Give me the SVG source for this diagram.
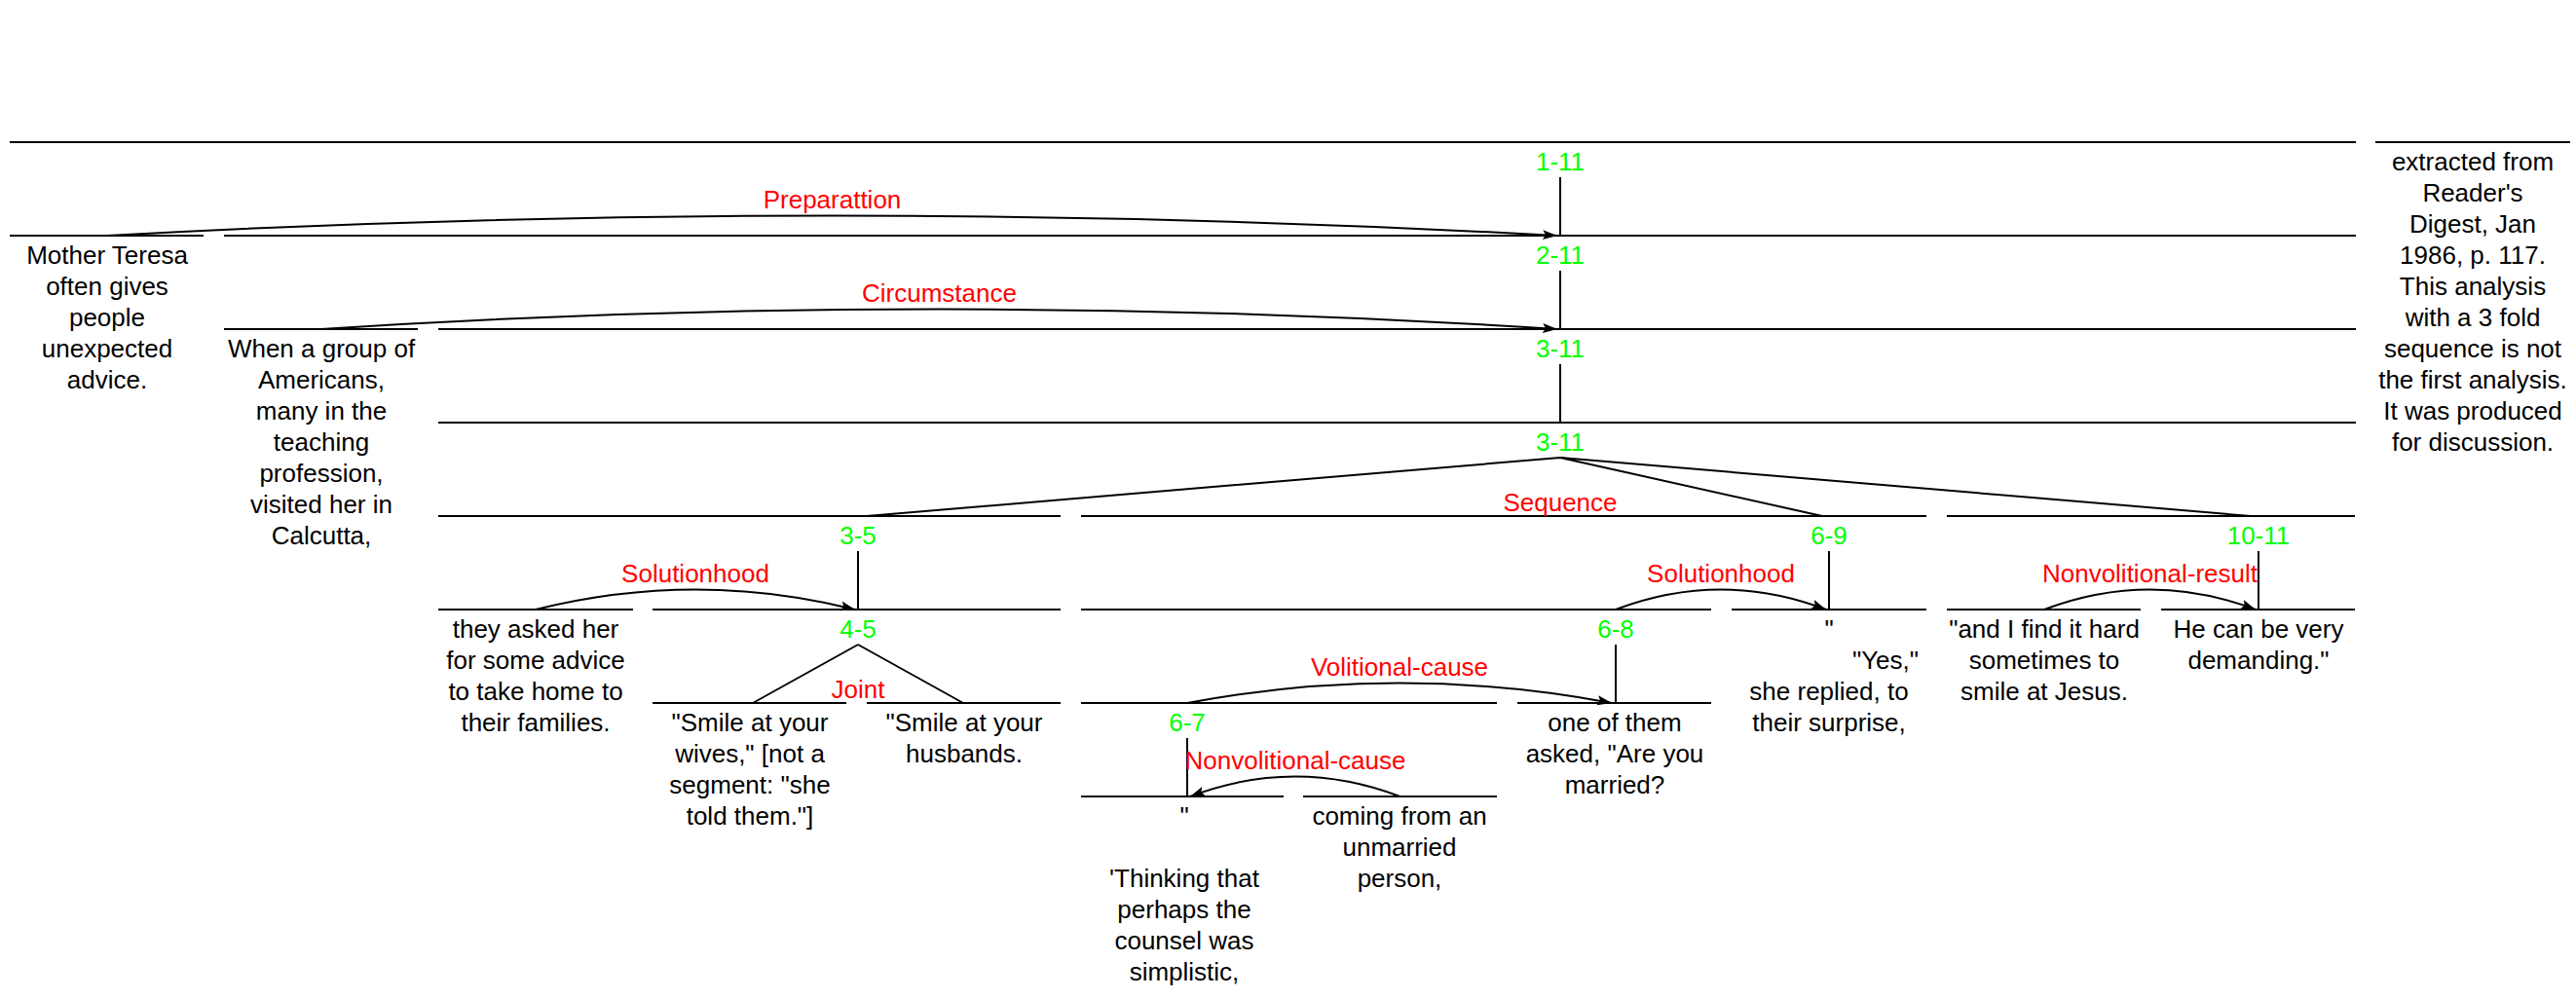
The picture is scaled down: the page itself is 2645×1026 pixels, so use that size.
<svg xmlns="http://www.w3.org/2000/svg" width="2645" height="1026" viewBox="0 0 2645 1026">
<style>
.ln{stroke:#000;stroke-width:2;fill:none}
text{font-family:"Liberation Sans",Arial,sans-serif;font-size:26px;text-anchor:middle}
.sp{fill:#00ff00}
.rel{fill:#ff0000}
.tx{fill:#000}
</style>
<defs>
<marker id="ah" markerUnits="userSpaceOnUse" markerWidth="16" markerHeight="12" refX="15" refY="6" orient="auto" viewBox="0 0 16 12">
<path d="M15,6 L0,1 L3,6 L0,11 Z" fill="#000"/>
</marker>
</defs>
<rect width="2645" height="1026" fill="#fff"/>

<g id="span-1-11">
<line class="ln" x1="10" y1="146" x2="2419" y2="146"/>
<text class="sp" x="1602" y="175">1-11</text>
</g>
<g id="seg-1">
<line class="ln" x1="10" y1="242" x2="209" y2="242"/>
<text class="tx" x="110" y="271"><tspan x="110">Mother Teresa</tspan><tspan x="110" dy="32">often gives</tspan><tspan x="110" dy="32">people</tspan><tspan x="110" dy="32">unexpected</tspan><tspan x="110" dy="32">advice.</tspan></text>
</g>
<g id="span-2-11">
<line class="ln" x1="230" y1="242" x2="2419" y2="242"/>
<text class="sp" x="1602" y="271">2-11</text>
</g>
<g id="seg-2">
<line class="ln" x1="230" y1="338" x2="429" y2="338"/>
<text class="tx" x="330" y="367"><tspan x="330">When a group of</tspan><tspan x="330" dy="32">Americans,</tspan><tspan x="330" dy="32">many in the</tspan><tspan x="330" dy="32">teaching</tspan><tspan x="330" dy="32">profession,</tspan><tspan x="330" dy="32">visited her in</tspan><tspan x="330" dy="32">Calcutta,</tspan></text>
</g>
<g id="span-3-11a">
<line class="ln" x1="450" y1="338" x2="2419" y2="338"/>
<text class="sp" x="1602" y="367">3-11</text>
</g>
<g id="span-3-11b">
<line class="ln" x1="450" y1="434" x2="2419" y2="434"/>
<text class="sp" x="1602" y="463">3-11</text>
</g>
<g id="span-3-5">
<line class="ln" x1="450" y1="530" x2="1089" y2="530"/>
<text class="sp" x="881" y="559">3-5</text>
</g>
<g id="span-6-9">
<line class="ln" x1="1110" y1="530" x2="1978" y2="530"/>
<text class="sp" x="1878" y="559">6-9</text>
</g>
<g id="span-10-11">
<line class="ln" x1="1999" y1="530" x2="2418" y2="530"/>
<text class="sp" x="2319" y="559">10-11</text>
</g>
<g id="seg-3">
<line class="ln" x1="450" y1="626" x2="650" y2="626"/>
<text class="tx" x="550" y="655"><tspan x="550">they asked her</tspan><tspan x="550" dy="32">for some advice</tspan><tspan x="550" dy="32">to take home to</tspan><tspan x="550" dy="32">their families.</tspan></text>
</g>
<g id="span-4-5">
<line class="ln" x1="670" y1="626" x2="1089" y2="626"/>
<text class="sp" x="881" y="655">4-5</text>
</g>
<g id="span-6-8">
<line class="ln" x1="1110" y1="626" x2="1757" y2="626"/>
<text class="sp" x="1659" y="655">6-8</text>
</g>
<g id="seg-9">
<line class="ln" x1="1778" y1="626" x2="1978" y2="626"/>
<text class="tx" x="1878" y="655"><tspan x="1878">"</tspan><tspan x="1936" dy="32">"Yes,"</tspan><tspan x="1878" dy="32">she replied, to</tspan><tspan x="1878" dy="32">their surprise,</tspan></text>
</g>
<g id="seg-10">
<line class="ln" x1="1999" y1="626" x2="2198" y2="626"/>
<text class="tx" x="2099" y="655"><tspan x="2099">"and I find it hard</tspan><tspan x="2099" dy="32">sometimes to</tspan><tspan x="2099" dy="32">smile at Jesus.</tspan></text>
</g>
<g id="seg-11">
<line class="ln" x1="2219" y1="626" x2="2418" y2="626"/>
<text class="tx" x="2319" y="655"><tspan x="2319">He can be very</tspan><tspan x="2319" dy="32">demanding."</tspan></text>
</g>
<g id="seg-4">
<line class="ln" x1="670" y1="722" x2="869" y2="722"/>
<text class="tx" x="770" y="751"><tspan x="770">"Smile at your</tspan><tspan x="770" dy="32">wives," [not a</tspan><tspan x="770" dy="32">segment: "she</tspan><tspan x="770" dy="32">told them."]</tspan></text>
</g>
<g id="seg-5">
<line class="ln" x1="890" y1="722" x2="1089" y2="722"/>
<text class="tx" x="990" y="751"><tspan x="990">"Smile at your</tspan><tspan x="990" dy="32">husbands.</tspan></text>
</g>
<g id="span-6-7">
<line class="ln" x1="1110" y1="722" x2="1537" y2="722"/>
<text class="sp" x="1219" y="751">6-7</text>
</g>
<g id="seg-8">
<line class="ln" x1="1558" y1="722" x2="1757" y2="722"/>
<text class="tx" x="1658" y="751"><tspan x="1658">one of them</tspan><tspan x="1658" dy="32">asked, "Are you</tspan><tspan x="1658" dy="32">married?</tspan></text>
</g>
<g id="seg-6">
<line class="ln" x1="1110" y1="818" x2="1318" y2="818"/>
<text class="tx" x="1216" y="847"><tspan x="1216">"</tspan><tspan x="1216" dy="64">'Thinking that</tspan><tspan x="1216" dy="32">perhaps the</tspan><tspan x="1216" dy="32">counsel was</tspan><tspan x="1216" dy="32">simplistic,</tspan></text>
</g>
<g id="seg-7">
<line class="ln" x1="1338" y1="818" x2="1537" y2="818"/>
<text class="tx" x="1437" y="847"><tspan x="1437">coming from an</tspan><tspan x="1437" dy="32">unmarried</tspan><tspan x="1437" dy="32">person,</tspan></text>
</g>
<g id="note">
<line class="ln" x1="2439" y1="146" x2="2639" y2="146"/>
<text class="tx" x="2539" y="175"><tspan x="2539">extracted from</tspan><tspan x="2539" dy="32">Reader's</tspan><tspan x="2539" dy="32">Digest, Jan</tspan><tspan x="2539" dy="32">1986, p. 117.</tspan><tspan x="2539" dy="32">This analysis</tspan><tspan x="2539" dy="32">with a 3 fold</tspan><tspan x="2539" dy="32">sequence is not</tspan><tspan x="2539" dy="32">the first analysis.</tspan><tspan x="2539" dy="32">It was produced</tspan><tspan x="2539" dy="32">for discussion.</tspan></text>
</g>

<g id="connectors">
<line class="ln" x1="1602" y1="182" x2="1602" y2="242"/>
<line class="ln" x1="1602" y1="278" x2="1602" y2="338"/>
<line class="ln" x1="1602" y1="374" x2="1602" y2="434"/>
<line class="ln" x1="881" y1="566" x2="881" y2="626"/>
<line class="ln" x1="1878" y1="566" x2="1878" y2="626"/>
<line class="ln" x1="2319" y1="566" x2="2319" y2="626"/>
<line class="ln" x1="1659" y1="662" x2="1659" y2="722"/>
<line class="ln" x1="1219" y1="758" x2="1219" y2="818"/>
<path class="ln" d="M1602,470 L890,530 M1602,470 L1871,530 M1602,470 L2311,530"/>
<path class="ln" d="M881,662 L773,722 M881,662 L989,722"/>
<path class="ln" marker-end="url(#ah)" d="M110,242 Q854.5,201 1599,242"/>
<path class="ln" marker-end="url(#ah)" d="M330,338 Q964.5,297 1599,338"/>
<path class="ln" marker-end="url(#ah)" d="M550,626 Q714,585 878,626"/>
<path class="ln" marker-end="url(#ah)" d="M1659,626 Q1767,585 1875,626"/>
<path class="ln" marker-end="url(#ah)" d="M2099,626 Q2207.5,585 2316,626"/>
<path class="ln" marker-end="url(#ah)" d="M1219,722 Q1437,681 1655,722"/>
<path class="ln" marker-end="url(#ah)" d="M1437.5,818 Q1330,777 1222,818"/>
<text class="rel" x="854.5" y="214">Preparattion</text>
<text class="rel" x="964.5" y="310">Circumstance</text>
<text class="rel" x="1602" y="525">Sequence</text>
<text class="rel" x="714" y="598">Solutionhood</text>
<text class="rel" x="1767" y="598">Solutionhood</text>
<text class="rel" x="2207.5" y="598">Nonvolitional-result</text>
<text class="rel" x="881" y="717">Joint</text>
<text class="rel" x="1437" y="694">Volitional-cause</text>
<text class="rel" x="1330" y="790">Nonvolitional-cause</text>
</g>
</svg>
